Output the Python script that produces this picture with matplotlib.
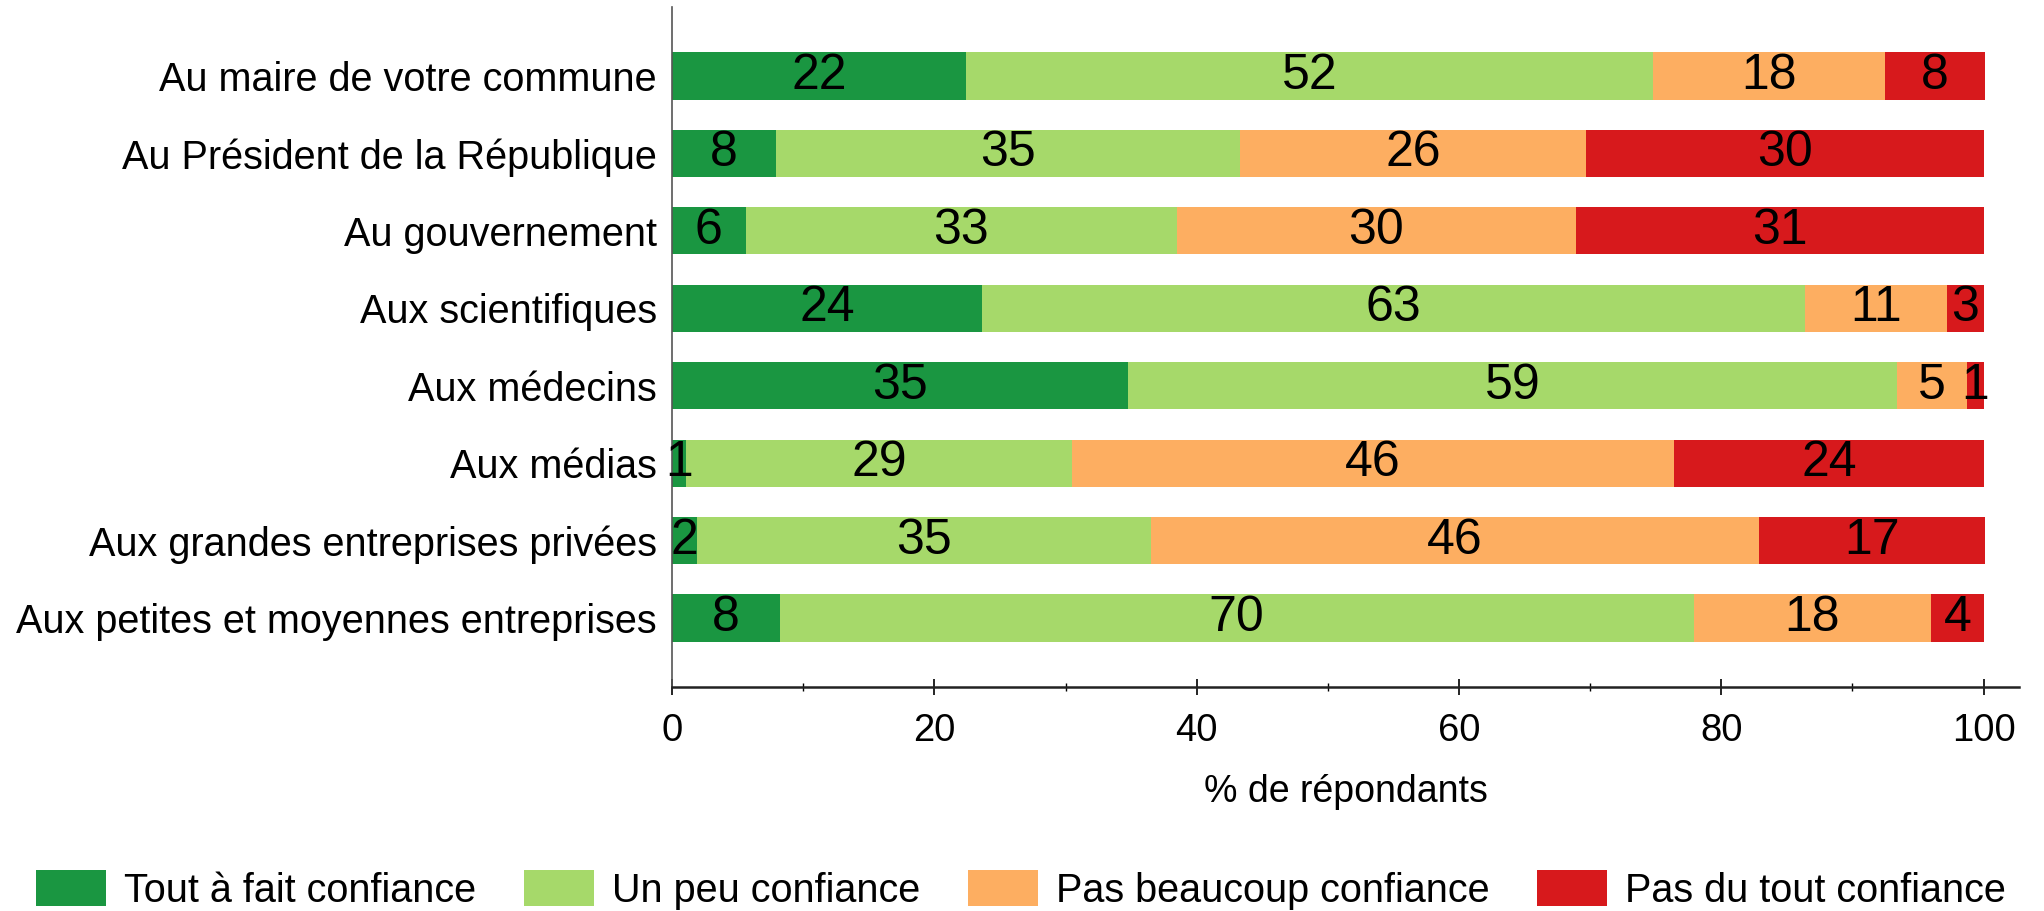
import numpy as np
import matplotlib
matplotlib.use("Agg")
import matplotlib.pyplot as plt

plt.rcParams["font.family"] = ["Liberation Sans", "DejaVu Sans"]

categories = [
    "Au maire de votre commune",
    "Au Président de la République",
    "Au gouvernement",
    "Aux scientifiques",
    "Aux médecins",
    "Aux médias",
    "Aux grandes entreprises privées",
    "Aux petites et moyennes entreprises",
]
series_names = [
    "Tout à fait confiance",
    "Un peu confiance",
    "Pas beaucoup confiance",
    "Pas du tout confiance",
]
tout_a_fait = [22.4, 7.9, 5.6, 23.6, 34.8, 1.1, 1.9, 8.2]
un_peu = [52.4, 35.4, 32.9, 62.8, 58.6, 29.4, 34.6, 69.7]
pas_beaucoup = [17.7, 26.4, 30.4, 10.8, 5.3, 45.9, 46.4, 18.1]
pas_du_tout = [7.6, 30.3, 31.1, 2.8, 1.3, 23.6, 17.2, 4.0]
colors = ["#1a9641", "#a6d96a", "#fdae61", "#d7191c"]

fig = plt.figure(figsize=(20.44, 9.11), dpi=100)
ax = fig.add_axes([0.3288, 0.2459, 0.9878 - 0.3288, 0.9923 - 0.2459])

y = np.arange(len(categories))
left = np.zeros(len(categories))
for vals, name, col in zip([tout_a_fait, un_peu, pas_beaucoup, pas_du_tout], series_names, colors):
    vals = np.array(vals)
    bars = ax.barh(y, vals, left=left, height=0.61, color=col, label=name, edgecolor="none")
    ax.bar_label(bars, labels=[f"{v:.0f}" for v in vals], label_type="center", fontsize=36)
    left += vals

ax.set_ylim(len(categories) - 1 + 0.89, -0.89)
ax.set_xlim(0, 102.7)
ax.set_yticks(y)
ax.set_yticklabels(categories, fontsize=28.5)
ax.tick_params(axis="y", length=0, pad=11)
ax.set_xticks([0, 20, 40, 60, 80, 100])
ax.set_xticks([10, 30, 50, 70, 90], minor=True)
ax.tick_params(axis="x", which="major", direction="inout", length=11, width=1.2, labelsize=27.5, pad=13)
ax.tick_params(axis="x", which="minor", direction="inout", length=6, width=1.0)
ax.set_xlabel("% de répondants", fontsize=27, labelpad=18)

ax.spines["top"].set_visible(False)
ax.spines["right"].set_visible(False)
ax.spines["left"].set_color("#555555")
ax.spines["left"].set_linewidth(1.2)
ax.spines["bottom"].set_color("#222222")
ax.spines["bottom"].set_linewidth(1.8)

fig.legend(loc="center", bbox_to_anchor=(0.4995, 0.023), ncol=4, frameon=False,
           fontsize=28.5, handlelength=1.77, handleheight=1.0, handletextpad=0.46,
           columnspacing=1.2, borderpad=0, borderaxespad=0)

fig.savefig("out.png", dpi=100)
